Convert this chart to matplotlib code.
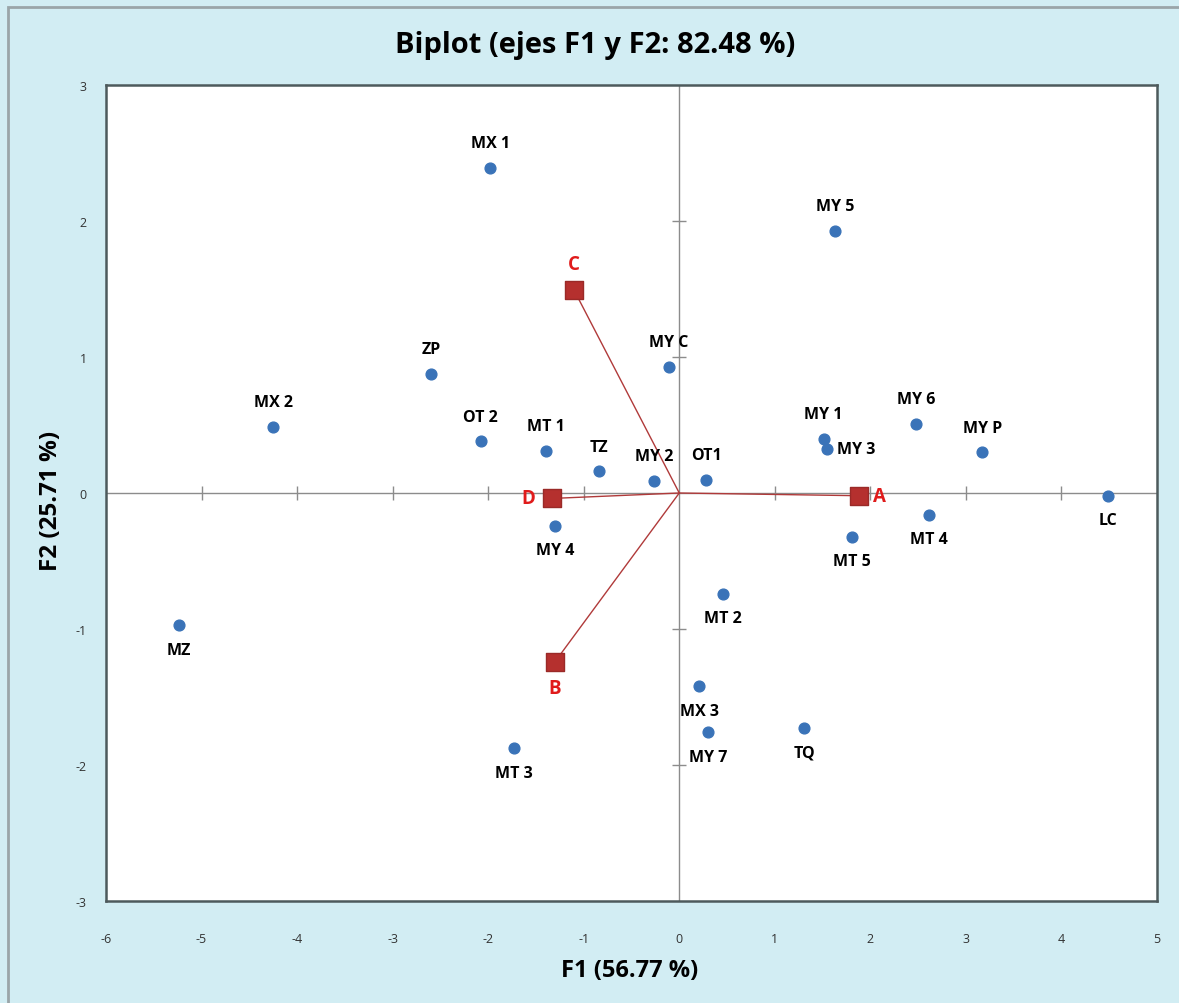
import matplotlib.pyplot as plt
from matplotlib.patches import Rectangle
import numpy as np

plt.rcParams['font.family'] = ['Open Sans', 'DejaVu Sans']
plt.rcParams['axes.unicode_minus'] = False

# observations (F1, F2)
obs_names = ["MX 1", "MY 5", "ZP", "MY C", "MX 2", "OT 2", "MT 1", "TZ", "MY 2", "OT1",
             "MY 1", "MY 3", "MY 6", "MY P", "LC", "MY 4", "MT 4", "MT 5", "MT 2", "MZ",
             "MX 3", "MY 7", "TQ", "MT 3"]
obs_f1 = [-1.98, 1.63, -2.60, -0.11, -4.25, -2.08, -1.40, -0.84, -0.26, 0.28,
          1.51, 1.55, 2.48, 3.17, 4.49, -1.30, 2.61, 1.81, 0.46, -5.24,
          0.21, 0.30, 1.31, -1.73]
obs_f2 = [2.39, 1.93, 0.875, 0.93, 0.485, 0.38, 0.31, 0.16, 0.09, 0.096,
          0.40, 0.32, 0.51, 0.30, -0.02, -0.24, -0.16, -0.32, -0.74, -0.97,
          -1.42, -1.76, -1.73, -1.875]
# label placement: a = above, b = below, r = right
obs_pos = ["a", "a", "a", "a", "a", "a", "a", "a", "a", "a",
           "a", "r", "a", "a", "b", "b", "b", "b", "b", "b",
           "b", "b", "b", "b"]

# variables (F1, F2)
var_names = ["A", "B", "C", "D"]
var_f1 = [1.88, -1.30, -1.10, -1.33]
var_f2 = [-0.02, -1.24, 1.49, -0.04]
var_pos = ["r", "b", "a", "l"]

bg = "#d2edf3"
W, H = 1179, 1004
fig = plt.figure(figsize=(W / 100, H / 100), dpi=100, facecolor=bg)
fig.patches.append(Rectangle((8 / W, -0.1), 1.2, 1 - 8 / H + 0.1, transform=fig.transFigure,
                             facecolor=bg, edgecolor="#9aa5a8", lw=2, zorder=-5))

ax = fig.add_axes([106 / W, 1 - 902 / H, (1157 - 106) / W, (902 - 86) / H])
ax.set_zorder(2)
ax.set_facecolor("white")
ax.set_xlim(-6, 5)
ax.set_ylim(-3, 3)
for s in ax.spines.values():
    s.set_color("#4d5a5c")
    s.set_linewidth(1.8)

ax.set_xticks(range(-6, 6))
ax.set_yticks(range(-3, 4))
ax.tick_params(length=0, labelsize=9, colors="#333333")
ax.tick_params(axis="x", pad=22)
ax.tick_params(axis="y", pad=14)

# crosshair axes with tick marks
ax.axhline(0, color="#8c8c8c", lw=1, zorder=1)
ax.axvline(0, color="#8c8c8c", lw=1, zorder=1)
xt = [v for v in range(-5, 5) if v != 0]
yt = [v for v in range(-2, 3) if v != 0]
ax.plot(xt, np.zeros(len(xt)), ls="none", marker="|", ms=10, mew=1, color="#8c8c8c", zorder=1)
ax.plot(np.zeros(len(yt)), yt, ls="none", marker="_", ms=10, mew=1, color="#8c8c8c", zorder=1)

# vectors
for x, y in zip(var_f1, var_f2):
    ax.plot([0, x], [0, y], color="#b03a3a", lw=1, zorder=2)
ax.scatter(var_f1, var_f2, marker="s", s=150, color="#b5302e", edgecolor="#9a2a28", zorder=4)

ax.scatter(obs_f1, obs_f2, s=60, color="#3a73b8", zorder=3)

offs = {"a": (0, 12, "center", "bottom"), "b": (0, -12, "center", "top"),
        "r": (7, 0, "left", "center"), "l": (-12, 0, "right", "center")}
for n, x, y, p in zip(obs_names, obs_f1, obs_f2, obs_pos):
    dx, dy, ha, va = offs[p]
    ax.annotate(n, (x, y), xytext=(dx, dy), textcoords="offset points", ha=ha, va=va,
                fontsize=11.5, fontweight="bold", color="black", zorder=5)
for n, x, y, p in zip(var_names, var_f1, var_f2, var_pos):
    dx, dy, ha, va = offs[p]
    if p == "r":
        dx = 10
    ax.annotate(n, (x, y), xytext=(dx, dy), textcoords="offset points", ha=ha, va=va,
                fontsize=13.5, fontweight="bold", color="#e01b1b", zorder=5)

fig.text(595 / W, 1 - 46 / H, "Biplot (ejes F1 y F2: 82.48 %)",
         ha="center", va="center", fontsize=21, fontweight="bold")
fig.text(630 / W, 1 - 971 / H, "F1 (56.77 %)",
         ha="center", va="center", fontsize=17, fontweight="bold")
fig.text(51 / W, 1 - 501 / H, "F2 (25.71 %)", rotation=90,
         ha="center", va="center", fontsize=17.5, fontweight="bold")

fig.savefig("out.png", dpi=100, facecolor=bg)
